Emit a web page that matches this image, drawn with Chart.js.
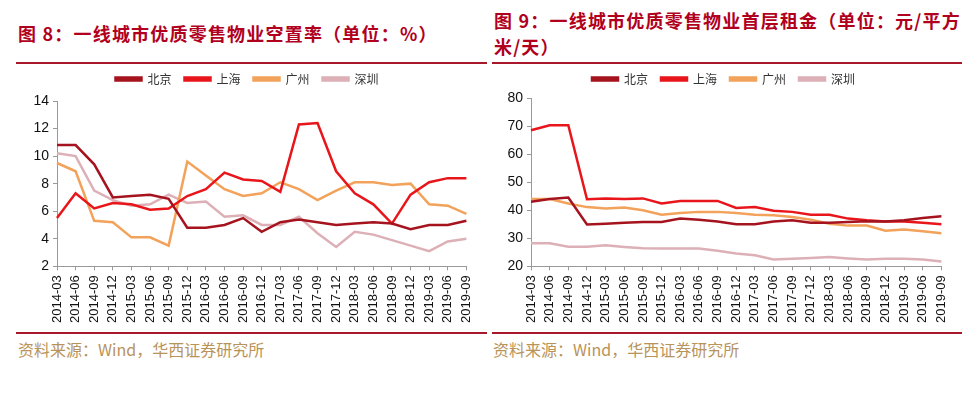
<!DOCTYPE html>
<html>
<head>
<meta charset="utf-8">
<script src="https://cdn.jsdelivr.net/npm/chart.js@4"></script>
<style>
  body { margin: 0; background: #fff; width: 970px; height: 398px; position: relative; overflow: hidden; }
  .title { position: absolute; color: #B0001E; font-family: "Noto Sans CJK SC", sans-serif; font-weight: bold; font-size: 18px; letter-spacing: 1.2px; line-height: 26px; }
  .rule { position: absolute; height: 2px; background: #A8182A; z-index: 2; }
  .source { position: absolute; color: #B8935A; font-family: "Noto Sans CJK SC", sans-serif; font-size: 16px; }
  .box { position: absolute; }
</style>
</head>
<body>
<div class="title" style="left:18px; top:20px;">图 8：一线城市优质零售物业空置率（单位：%）</div>
<div class="title" style="left:494px; top:7px; width:476px;">图 9：一线城市优质零售物业首层租金（单位：元/平方米/天）</div>
<div class="rule" style="left:16px; top:62px; width:471px;"></div>
<div class="rule" style="left:492px; top:62px; width:470px;"></div>
<div class="box" style="left:16px; top:60px; width:471px; height:268px;"><canvas id="vacancy"></canvas></div>
<div class="box" style="left:492px; top:60px; width:470px; height:268px;"><canvas id="rent"></canvas></div>
<div class="rule" style="left:16px; top:332px; width:471px;"></div>
<div class="rule" style="left:492px; top:332px; width:470px;"></div>
<div class="source" style="left:18px; top:337px;">资料来源：Wind，华西证券研究所</div>
<div class="source" style="left:493px; top:337px;">资料来源：Wind，华西证券研究所</div>
<script>
const quarters = ["2014-03","2014-06","2014-09","2014-12","2015-03","2015-06","2015-09","2015-12",
  "2016-03","2016-06","2016-09","2016-12","2017-03","2017-06","2017-09","2017-12",
  "2018-03","2018-06","2018-09","2018-12","2019-03","2019-06","2019-09"];
const cities = ["北京", "上海", "广州", "深圳"];
const cityColors = ["#A5141E", "#E8151B", "#F2A25A", "#DCB0B6"];

// vacancy rate, %
const vacancyBeijing = [10.8,10.8,9.4,7.0,7.1,7.2,6.9,4.8,4.8,5.0,5.5,4.5,5.2,5.4,5.2,5.0,5.1,5.2,5.1,4.7,5.0,5.0,5.3];
const vacancyShanghai = [5.5,7.3,6.2,6.6,6.5,6.1,6.2,7.1,7.6,8.8,8.3,8.2,7.4,12.3,12.4,8.9,7.3,6.5,5.1,7.2,8.1,8.4,8.4];
const vacancyGuangzhou = [9.5,8.9,5.3,5.2,4.1,4.1,3.5,9.6,8.6,7.6,7.1,7.3,8.1,7.6,6.8,7.5,8.1,8.1,7.9,8.0,6.5,6.4,5.8];
const vacancyShenzhen = [10.2,10.0,7.5,6.8,6.4,6.5,7.2,6.6,6.7,5.6,5.7,5.0,5.0,5.6,4.4,3.4,4.5,4.3,3.9,3.5,3.1,3.8,4.0];

// ground floor rent, yuan / sqm / day
const rentBeijing = [43.0,44.0,44.5,34.9,35.2,35.5,35.8,35.8,37.0,36.6,36.0,35.0,35.0,36.0,36.4,35.5,35.5,35.8,36.1,36.0,36.4,37.2,37.8];
const rentShanghai = [68.5,70.3,70.3,43.9,44.2,44.0,44.2,42.4,43.3,43.3,43.3,40.8,41.1,39.8,39.4,38.4,38.4,37.0,36.4,36.0,36.0,35.5,35.0];
const rentGuangzhou = [44.0,44.0,42.4,41.1,40.6,41.0,40.0,38.4,39.0,39.4,39.4,39.0,38.4,38.2,37.6,36.6,35.2,34.5,34.5,32.7,33.1,32.5,31.8];
const rentShenzhen = [28.2,28.2,27.0,27.0,27.5,26.9,26.4,26.3,26.3,26.3,25.5,24.6,23.9,22.4,22.7,23.0,23.3,22.8,22.4,22.7,22.7,22.4,21.7];

function makeChart(id, series, yMin, yMax, yStep, yWidth, padRight, legendGap) {
  const ctx = document.getElementById(id).getContext("2d");
  new Chart(ctx, {
    type: "line",
    data: {
      labels: quarters,
      datasets: series.map((values, i) => ({
        label: cities[i],
        data: values,
        borderColor: cityColors[i],
        backgroundColor: cityColors[i],
        borderWidth: 2.5,
        pointRadius: 0,
        tension: 0
      }))
    },
    plugins: [{
      // push the plot area down a bit below the legend
      id: "legendGap",
      beforeInit(chart) {
        const fit = chart.legend.fit;
        chart.legend.fit = function () {
          fit.call(this);
          this.height += legendGap;
        };
      }
    }],
    options: {
      responsive: true,
      maintainAspectRatio: false,
      animation: false,
      layout: { padding: { right: padRight } },
      plugins: {
        legend: {
          labels: {
            boxWidth: 26,
            boxHeight: 3,
            padding: 13,
            color: "#333",
            font: { family: "'Noto Sans CJK SC', sans-serif", size: 12 }
          }
        },
        tooltip: { enabled: false }
      },
      scales: {
        x: {
          offset: false,
          grid: { display: true, drawOnChartArea: false, drawTicks: true, tickLength: 4, color: "#999" },
          border: { color: "#999" },
          ticks: {
            autoSkip: false,
            minRotation: 90,
            maxRotation: 90,
            padding: 5,
            color: "#111",
            font: { family: "'Liberation Sans', Arial, sans-serif", size: 13 }
          }
        },
        y: {
          min: yMin,
          max: yMax,
          afterFit: (axis) => { axis.width = yWidth; },
          grid: { display: true, drawOnChartArea: false, drawTicks: true, tickLength: 4, color: "#999" },
          border: { color: "#999" },
          ticks: {
            stepSize: yStep,
            padding: 4,
            color: "#111",
            font: { family: "'Liberation Sans', Arial, sans-serif", size: 14 }
          }
        }
      }
    }
  });
}

makeChart("vacancy", [vacancyBeijing, vacancyShanghai, vacancyGuangzhou, vacancyShenzhen], 2, 14, 2, 41, 9, 6);
makeChart("rent", [rentBeijing, rentShanghai, rentGuangzhou, rentShenzhen], 20, 80, 10, 39, 7, 3);
</script>
</body>
</html>
